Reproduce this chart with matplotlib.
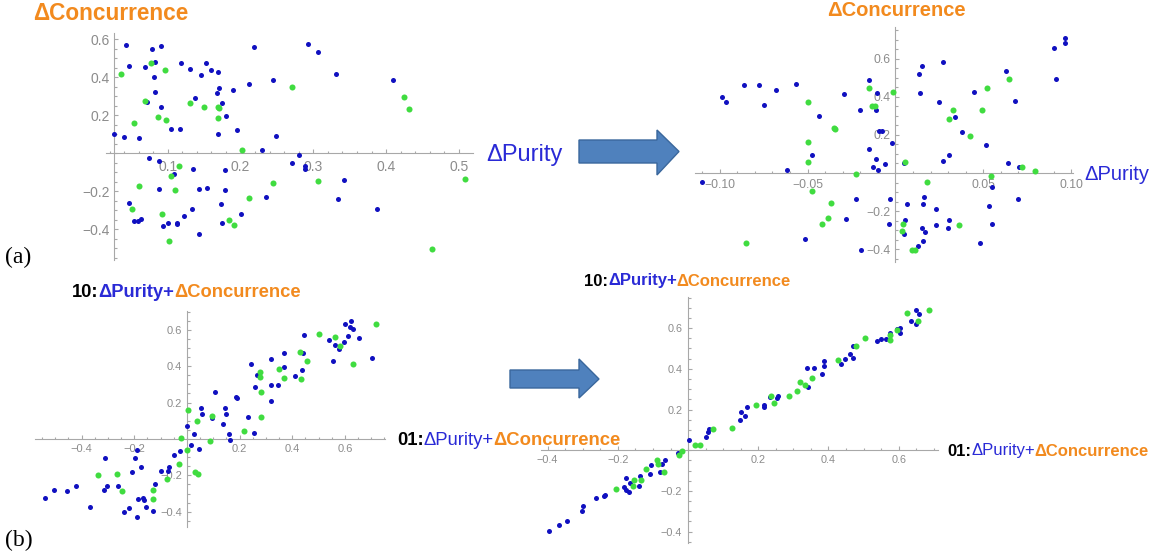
import matplotlib
matplotlib.use('Agg')

import matplotlib.pyplot as plt
from matplotlib.ticker import FixedLocator, FixedFormatter, MultipleLocator
from matplotlib.patches import Polygon

# ---- data ----
# (a) left: before
a1_blue_x = [0.026, 0.042, 0.040, 0.047, 0.060, 0.068, 0.071, 0.078, 0.081, 0.083,
             0.083, 0.091, 0.090, 0.105, 0.118, 0.117, 0.130, 0.137, 0.146, 0.152,
             0.160, 0.169, 0.168, 0.171, 0.174, 0.180, 0.169, 0.189, 0.195, 0.212,
             0.218, 0.244, 0.249, 0.229, 0.292, 0.306, 0.331, 0.409, 0.280, 0.271,
             0.289, 0.289, 0.342, 0.334, 0.387, 0.235, 0.201, 0.178, 0.178, 0.154,
             0.143, 0.173, 0.175, 0.143, 0.133, 0.134, 0.122, 0.113, 0.112, 0.100,
             0.094, 0.088, 0.108, 0.088, 0.074, 0.047, 0.054, 0.059, 0.063]
a1_blue_y = [0.098, 0.568, 0.086, 0.460, 0.079, 0.453, 0.270, 0.549, 0.398, 0.479,
             0.319, 0.565, 0.242, 0.125, 0.472, 0.125, 0.444, 0.289, 0.409, 0.472,
             0.435, 0.426, 0.316, 0.340, 0.261, 0.196, 0.100, 0.330, 0.123, 0.361,
             0.558, 0.384, 0.088, 0.014, 0.575, 0.530, 0.416, 0.386, -0.009, -0.051,
             -0.067, -0.084, -0.142, -0.240, -0.295, -0.230, -0.319, -0.091, -0.196, -0.184,
             -0.189, -0.267, -0.367, -0.425, -0.295, -0.086, -0.332, -0.368, -0.375, -0.367,
             -0.386, -0.191, -0.111, -0.040, -0.025, -0.265, -0.360, -0.360, -0.347]
a1_green_x = [0.035, 0.077, 0.096, 0.053, 0.068, 0.086, 0.097, 0.130, 0.150, 0.169,
              0.170, 0.169, 0.270, 0.425, 0.431, 0.202, 0.115, 0.104, 0.110, 0.061,
              0.051, 0.092, 0.101, 0.184, 0.191, 0.212, 0.244, 0.307, 0.508, 0.463]
a1_green_y = [0.416, 0.475, 0.435, 0.160, 0.274, 0.191, 0.174, 0.263, 0.244, 0.240,
              0.235, 0.184, 0.346, 0.296, 0.232, 0.014, -0.067, -0.121, -0.196, -0.174,
              -0.295, -0.319, -0.461, -0.354, -0.381, -0.235, -0.160, -0.146, -0.135, -0.507]

# (a) right: after
a2_blue_x = [-0.110, -0.0985, -0.0962, -0.0864, -0.0777, -0.0750, -0.0680, -0.0563, -0.0614, -0.0434,
             -0.0472, -0.0517, -0.0292, -0.0282, -0.0222, -0.0195, -0.0201, -0.0152, -0.0153, -0.0125,
             -0.0108, -0.0108, -0.0106, -0.0097, -0.0093, -0.0074, -0.0059, -0.0032, -0.0036, -0.0019,
             0.0049, 0.0053, 0.0051, 0.0064, 0.0136, 0.0153, 0.0140, 0.0157, 0.0165, 0.0152,
             0.0169, 0.0157, 0.0129, 0.0233, 0.0231, 0.0248, 0.0271, 0.0273, 0.0307, 0.0305,
             0.0301, 0.0341, 0.0377, 0.0447, 0.0517, 0.0483, 0.0532, 0.0549, 0.0549, 0.0627,
             0.0638, 0.0680, 0.0701, 0.0697, 0.0902, 0.0915, 0.0966, 0.0966]
a2_blue_y = [-0.049, 0.398, 0.372, 0.461, 0.461, 0.358, 0.435, 0.468, 0.016, 0.300,
             0.095, -0.347, 0.416, -0.244, -0.135, -0.402, 0.328, 0.486, 0.125, 0.032,
             0.328, 0.074, 0.418, 0.018, 0.221, 0.221, 0.047, -0.139, -0.265, 0.158,
             0.053, -0.246, -0.319, -0.161, 0.521, 0.560, 0.418, -0.165, -0.125, -0.291,
             -0.312, -0.356, -0.381, -0.189, -0.274, 0.375, 0.582, 0.061, 0.096, -0.246,
             -0.291, 0.295, 0.214, 0.423, 0.146, -0.367, -0.174, -0.265, -0.074, 0.535,
             0.053, 0.379, 0.030, -0.139, 0.654, 0.495, 0.682, 0.709]
a2_green_x = [-0.0496, -0.0496, -0.0496, -0.0473, -0.0352, -0.0345, -0.0369, -0.0381, -0.0415, -0.0850,
              -0.0222, -0.0152, -0.0133, -0.0119, -0.0013, 0.0057, 0.0042, 0.0038, 0.0097, 0.0112,
              0.0182, 0.0307, 0.0328, 0.0422, 0.0491, 0.0519, 0.0544, 0.0644, 0.0722, 0.0795, 0.0360]
a2_green_y = [0.374, 0.160, 0.058, -0.096, 0.235, 0.232, -0.158, -0.237, -0.267, -0.367,
              -0.005, 0.444, 0.349, 0.351, 0.423, 0.056, -0.268, -0.304, -0.405, -0.402,
              -0.049, 0.282, 0.333, 0.196, 0.330, 0.444, -0.018, 0.493, 0.033, 0.009, -0.272]

# (b) left: before
b1_blue_x = [-0.538, -0.505, -0.455, -0.423, -0.370, -0.312, -0.315, -0.303, -0.262, -0.239,
             -0.221, -0.209, -0.198, -0.189, -0.188, -0.186, -0.174, -0.168, -0.165, -0.156,
             -0.129, -0.123, -0.100, -0.073, -0.068, -0.048, -0.026, 0.002, 0.017, 0.027,
             0.044, 0.052, 0.059, 0.095, 0.105, 0.136, 0.144, 0.150, 0.158, 0.164,
             0.185, 0.189, 0.230, 0.244, 0.255, 0.259, 0.267, 0.320, 0.320, 0.321,
             0.344, 0.370, 0.368, 0.412, 0.435, 0.442, 0.445, 0.541, 0.555, 0.562,
             0.576, 0.598, 0.602, 0.612, 0.618, 0.623, 0.630, 0.655, 0.703]
b1_blue_y = [-0.323, -0.281, -0.284, -0.259, -0.374, -0.105, -0.283, -0.257, -0.259, -0.402,
             -0.378, -0.180, -0.106, -0.062, -0.429, -0.330, -0.154, -0.323, -0.338, -0.372,
             -0.394, -0.250, -0.176, -0.176, -0.156, -0.090, -0.068, 0.072, -0.033, 0.026,
             -0.053, 0.171, 0.139, 0.117, 0.259, 0.084, 0.169, 0.138, 0.029, -0.006,
             0.228, 0.226, 0.119, 0.409, 0.031, 0.284, 0.349, 0.299, 0.211, 0.439,
             0.295, 0.473, 0.396, 0.347, 0.380, 0.472, 0.571, 0.543, 0.426, 0.517,
             0.495, 0.534, 0.629, 0.567, 0.613, 0.650, 0.602, 0.552, 0.444]
b1_green_x = [-0.336, -0.265, -0.245, -0.129, -0.130, -0.074, -0.032, -0.021, 0.000, 0.003,
              0.038, 0.029, 0.042, 0.088, 0.094, 0.215, 0.276, 0.277, 0.283, 0.280,
              0.350, 0.370, 0.430, 0.433, 0.455, 0.503, 0.562, 0.583, 0.632, 0.718]
b1_green_y = [-0.198, -0.193, -0.284, -0.279, -0.332, -0.222, -0.136, 0.006, -0.061, 0.158,
              0.097, -0.183, -0.193, -0.009, 0.125, 0.042, 0.367, 0.339, 0.257, 0.121,
              0.387, 0.334, 0.479, 0.328, 0.428, 0.576, 0.561, 0.512, 0.411, 0.633]

# (b) right: after
b2_blue_x = [-0.396, -0.368, -0.344, -0.301, -0.299, -0.263, -0.240, -0.238, -0.182, -0.177,
             -0.176, -0.169, -0.165, -0.140, -0.136, -0.108, -0.106, -0.081, -0.075, -0.065,
             -0.029, 0.004, 0.051, 0.058, 0.061, 0.148, 0.152, 0.161, 0.167, 0.215,
             0.217, 0.233, 0.252, 0.257, 0.342, 0.340, 0.358, 0.381, 0.388, 0.387,
             0.436, 0.448, 0.461, 0.469, 0.469, 0.539, 0.551, 0.564, 0.576, 0.594,
             0.604, 0.605, 0.636, 0.649, 0.650, 0.657]
b2_blue_y = [-0.398, -0.367, -0.348, -0.297, -0.273, -0.235, -0.227, -0.220, -0.181, -0.139,
             -0.194, -0.207, -0.162, -0.175, -0.126, -0.116, -0.075, -0.109, -0.070, -0.049,
             -0.016, 0.049, 0.064, 0.088, 0.104, 0.150, 0.188, 0.168, 0.214, 0.224,
             0.212, 0.260, 0.256, 0.266, 0.310, 0.403, 0.403, 0.374, 0.416, 0.439,
             0.426, 0.449, 0.473, 0.454, 0.513, 0.539, 0.549, 0.549, 0.578, 0.598,
             0.578, 0.602, 0.635, 0.619, 0.691, 0.668]
b2_green_x = [-0.204, -0.158, -0.155, -0.135, -0.119, -0.088, -0.085, -0.070, -0.027, -0.017,
              0.020, 0.035, 0.070, 0.124, 0.194, 0.237, 0.244, 0.288, 0.311, 0.318,
              0.333, 0.352, 0.427, 0.479, 0.504, 0.575, 0.574, 0.595, 0.624, 0.656, 0.687]
b2_green_y = [-0.189, -0.176, -0.145, -0.145, -0.090, -0.049, -0.067, -0.106, -0.024, -0.002,
              0.028, 0.028, 0.103, 0.111, 0.224, 0.266, 0.233, 0.266, 0.289, 0.335,
              0.320, 0.356, 0.442, 0.511, 0.553, 0.544, 0.568, 0.589, 0.676, 0.637, 0.691]

# tick values / labels (zero is not labelled)
a1_xticks = [0.1, 0.2, 0.3, 0.4, 0.5]
a1_xlabels = ['0.1', '0.2', '0.3', '0.4', '0.5']
a2_xticks = [-0.10, -0.05, 0.05, 0.10]
a2_xlabels = ['\u22120.10', '\u22120.05', '0.05', '0.10']
b_xticks = [-0.4, -0.2, 0.2, 0.4, 0.6]
b_xlabels = ['\u22120.4', '\u22120.2', '0.2', '0.4', '0.6']
yticks = [-0.4, -0.2, 0.2, 0.4, 0.6]
ylabels = ['\u22120.4', '\u22120.2', '0.2', '0.4', '0.6']

# ---- style ----
W, H = 1158, 556
BLUE_DOT = '#1010c0'
GREEN_DOT = '#40dc40'
BLUE_TXT = '#2a2ad6'
ORANGE = '#f28a1e'
AXIS_GRAY = '#a8a8a8'
LABEL_GRAY = '#8c8c8c'

plt.rcParams['font.family'] = ['Liberation Sans', 'DejaVu Sans']

fig = plt.figure(figsize=(W / 100, H / 100), dpi=100)


def panel(px, xlim, ylim, cross, xt, xl, xminor, fs, pads, bx, by, gx, gy):
    left, right, top, bottom = px
    ax = fig.add_axes([left / W, 1 - bottom / H, (right - left) / W, (bottom - top) / H])
    ax.set_xlim(xlim)
    ax.set_ylim(ylim)
    ax.patch.set_visible(False)
    for s in ('top', 'right'):
        ax.spines[s].set_visible(False)
    ax.spines['left'].set_position(('data', cross[0]))
    ax.spines['bottom'].set_position(('data', cross[1]))
    for s in ('left', 'bottom'):
        ax.spines[s].set_color(AXIS_GRAY)
        ax.spines[s].set_linewidth(0.8)
    ax.xaxis.set_major_locator(FixedLocator(xt))
    ax.xaxis.set_major_formatter(FixedFormatter(xl))
    ax.yaxis.set_major_locator(FixedLocator(yticks))
    ax.yaxis.set_major_formatter(FixedFormatter(ylabels))
    ax.xaxis.set_minor_locator(MultipleLocator(xminor))
    ax.yaxis.set_minor_locator(MultipleLocator(0.05))
    ax.tick_params(which='both', direction='in', color=AXIS_GRAY, width=0.8,
                   labelcolor=LABEL_GRAY, labelsize=fs)
    ax.tick_params(which='major', length=3.2)
    ax.tick_params(which='minor', length=1.8)
    ax.tick_params(axis='x', pad=pads[0])
    ax.tick_params(axis='y', pad=pads[1])
    ax.scatter(bx, by, s=13, color=BLUE_DOT, linewidths=0, zorder=3, clip_on=False)
    ax.scatter(gx, gy, s=19, color=GREEN_DOT, linewidths=0, zorder=4, clip_on=False)
    return ax


panel((106, 473, 33, 260), (0.015, 0.5195), (-0.563, 0.632), (0.026, 0), a1_xticks, a1_xlabels,
      0.02, 10, (5.3, 3.0), a1_blue_x, a1_blue_y, a1_green_x, a1_green_y)
panel((695, 1073, 27, 262), (-0.114, 0.101), (-0.467, 0.766), (0, 0), a2_xticks, a2_xlabels,
      0.01, 8.8, (4.3, 3.8), a2_blue_x, a2_blue_y, a2_green_x, a2_green_y)
panel((35, 385, 311, 527), (-0.577, 0.752), (-0.484, 0.703), (0, 0), b_xticks, b_xlabels,
      0.05, 8.0, (4.0, 3.6), b1_blue_x, b1_blue_y, b1_green_x, b1_green_y)
panel((541, 938, 297, 543), (-0.419, 0.712), (-0.456, 0.753), (0, 0), b_xticks, b_xlabels,
      0.05, 7.8, (3.8, 4.2), b2_blue_x, b2_blue_y, b2_green_x, b2_green_y)

# overlay in pixel coordinates for labels and arrows
ov = fig.add_axes([0, 0, 1, 1])
ov.set_xlim(0, W)
ov.set_ylim(H, 0)
ov.axis('off')


def rich(x, y, parts, size):
    prev = None
    for text, color, weight in parts:
        if prev is None:
            prev = ov.text(x, y, text, color=color, fontweight=weight, fontsize=size,
                           ha='left', va='baseline')
        else:
            prev = ov.annotate(text, xy=(1, 0), xycoords=prev, color=color,
                               fontweight=weight, fontsize=size, ha='left', va='bottom')


rich(33, 19.5, [('\u0394Concurrence', ORANGE, 'bold')], 16.3)
rich(486, 160.5, [('\u0394Purity', BLUE_TXT, 'normal')], 17)
rich(827, 15.5, [('\u0394Concurrence', ORANGE, 'bold')], 14.5)
rich(1084, 180, [('\u0394Purity', BLUE_TXT, 'normal')], 14.5)

title_b = [('10:', 'black', 'bold'), ('\u0394Purity+', BLUE_TXT, 'bold'),
           ('\u0394Concurrence', ORANGE, 'bold')]
xlab_b = [('01:', 'black', 'bold'), ('\u0394Purity+', BLUE_TXT, 'normal'),
          ('\u0394Concurrence', ORANGE, 'bold')]
rich(72, 297, title_b, 13.2)
rich(397, 445, xlab_b, 13.3)
rich(584, 285.5, title_b, 12)
rich(947, 455.5, xlab_b, 12)

ov.text(5, 263, '(a)', family='Liberation Serif', fontsize=17, va='baseline')
ov.text(5, 546, '(b)', family='Liberation Serif', fontsize=17, va='baseline')

# block arrows: (body left, head base, body top, body bottom, head top, head bottom, tip)
for bl, hb, bt, bb, ht, hbot, tip in [(579, 657, 140, 163, 130, 175, 679),
                                       (510, 579, 370, 388, 359, 398, 599)]:
    mid = (bt + bb) / 2
    verts = [(bl, bt), (hb, bt), (hb, ht), (tip, mid), (hb, hbot), (hb, bb), (bl, bb)]
    ov.add_patch(Polygon(verts, closed=True, facecolor='#4f81bd', edgecolor='#3a679c',
                         linewidth=1.0))

plt.savefig('out.png', dpi=100)
